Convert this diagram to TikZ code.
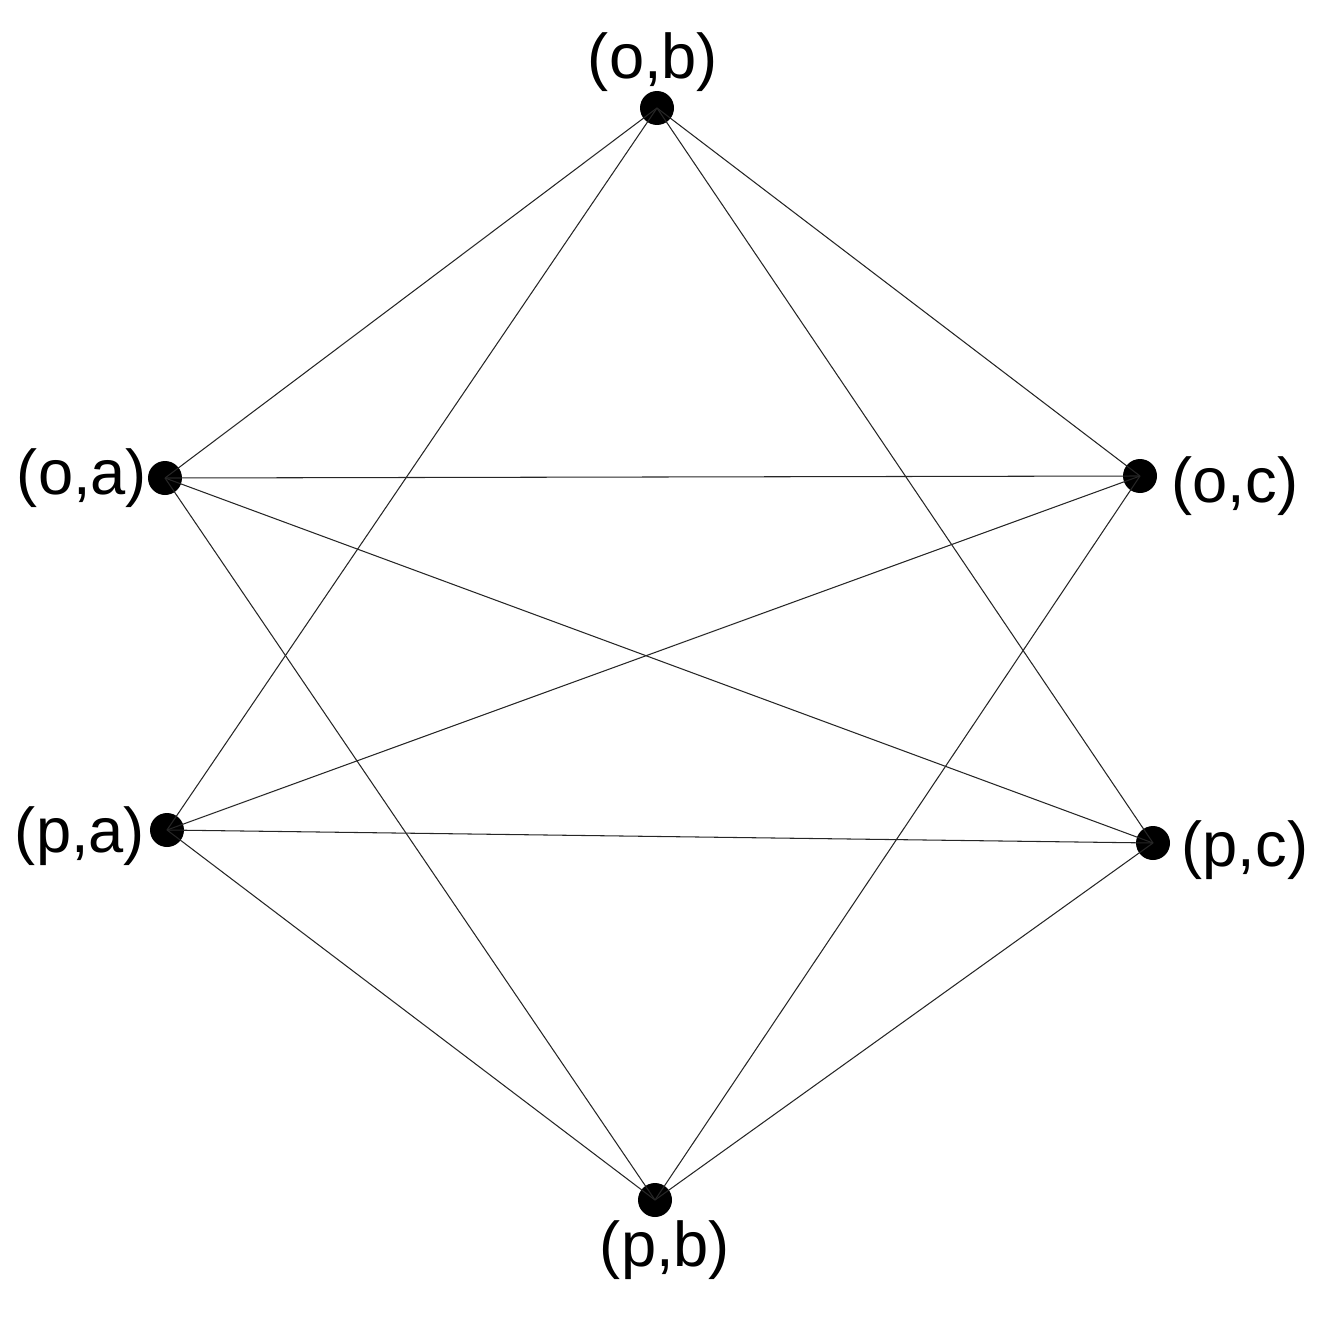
\documentclass[tikz,border=0pt]{standalone}
\usepackage{fontspec}
\setmainfont{Liberation Sans}
\begin{document}
\begin{tikzpicture}[x=0.02cm,y=-0.02cm,
  dot/.style={circle,fill=black,inner sep=0pt,minimum size=0.68cm},
  lbl/.style={font=\fontsize{36}{42}\selectfont,inner sep=0pt},
  edge/.style={draw=black!85,line width=0.6pt}]
\useasboundingbox (0,0) rectangle (1328,1332);
\node[dot] (ob) at (657,108) {};
\node[dot] (oa) at (165,478) {};
\node[dot] (oc) at (1140,476) {};
\node[dot] (pa) at (167,830) {};
\node[dot] (pc) at (1153,843) {};
\node[dot] (pb) at (655,1200) {};
\node[lbl] (lob) at (653,62) {(o,b)};
\node[lbl] (loa) at (82,478) {(o,a)};
\node[lbl] (loc) at (1235,486) {(o,c)};
\node[lbl] (lpa) at (80,836) {(p,a)};
\node[lbl] (lpc) at (1245,850) {(p,c)};
\node[lbl] (lpb) at (665,1250) {(p,b)};
\foreach \a/\b in {ob/oa,ob/pa,ob/pc,ob/oc,oa/oc,oa/pc,oa/pb,pa/oc,pa/pc,pa/pb,oc/pb,pc/pb}
  \draw[edge] (\a.center) -- (\b.center);
\end{tikzpicture}
\end{document}
